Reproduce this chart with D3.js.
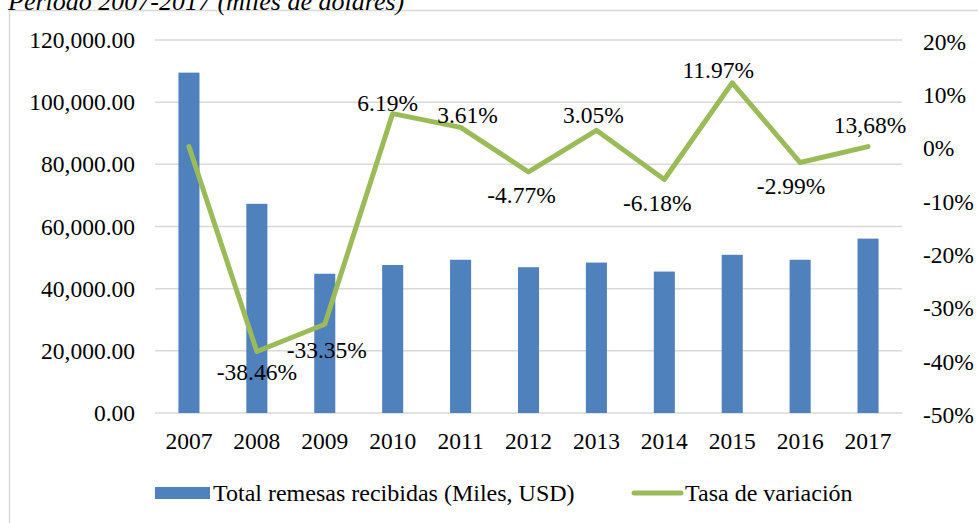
<!DOCTYPE html>
<html>
<head>
<meta charset="utf-8">
<script src="https://cdn.jsdelivr.net/npm/d3@7"></script>
<style>
  body { margin: 0; background: #fff; }
  svg text { font-family: "Liberation Serif", "Times New Roman", serif !important; fill: #000; }
</style>
</head>
<body>
<div id="chart"></div>
<script>
// data
var years = ["2007", "2008", "2009", "2010", "2011", "2012", "2013", "2014", "2015", "2016", "2017"];
var remesas = [109500, 67300, 44800, 47600, 49300, 46900, 48400, 45500, 50900, 49300, 56100];
var tasa = [0, -38.46, -33.35, 6.19, 3.61, -4.77, 3.05, -6.18, 11.97, -2.99, 0];
var tasaLabels = ["", "-38.46%", "-33.35%", "6.19%", "3.61%", "-4.77%", "3.05%", "-6.18%", "11.97%", "-2.99%", "13,68%"];
var leftTicks = [0, 20000, 40000, 60000, 80000, 100000, 120000];
var rightTicks = [20, 10, 0, -10, -20, -30, -40, -50];

// hand-dragged label nudges [dx, dy], like in the original spreadsheet
var labelNudge = [[0, 0], [0, -3], [2, 3], [-5, 3], [7, 2], [-7, 0], [-3, -1], [-7, 0], [-14, 1], [-9, 0], [2, -8]];

var width = 978, height = 523;
var plotL = 155, plotR = 902, plotT = 40, plotB = 413;
var fs = "23.5px";
var serif = "'Liberation Serif', 'Times New Roman', serif";

var svg = d3.select("#chart")
    .append("svg")
    .attr("width", width)
    .attr("height", height)
    .style("font-family", serif);

// outer frame (runs off the page on right / bottom)
svg.append("rect")
    .attr("x", 9.5).attr("y", 10.5)
    .attr("width", 1000).attr("height", 600)
    .attr("fill", "none")
    .attr("stroke", "#d9d9d9")
    .attr("stroke-width", 1.5);

// cut-off title
svg.append("text")
    .attr("x", 8).attr("y", 10)
    .style("font-style", "italic")
    .style("font-size", "26px")
    .text("Período 2007-2017 (miles de dólares)");

var x = d3.scaleBand()
    .domain(years)
    .range([plotL, plotR])
    .paddingInner(0.69)
    .paddingOuter(0.345);

var y = d3.scaleLinear().domain([0, 120000]).range([plotB, plotT]);
var y2 = d3.scaleLinear().domain([-50, 20]).range([plotB, plotT]);

// gridlines
svg.append("g")
    .selectAll("line")
    .data(leftTicks)
    .enter()
    .append("line")
    .attr("x1", plotL).attr("x2", plotR)
    .attr("y1", function (d) { return y(d); })
    .attr("y2", function (d) { return y(d); })
    .attr("stroke", "#d9d9d9")
    .attr("stroke-width", 1.5);

// left axis
var fmt = d3.format(",.2f");
var yAxis = svg.append("g")
    .attr("transform", "translate(" + plotL + ",0)")
    .call(d3.axisLeft(y).tickValues(leftTicks).tickFormat(fmt).tickSize(0).tickPadding(20));
yAxis.select(".domain").remove();

// right axis
var y2Axis = svg.append("g")
    .attr("transform", "translate(" + plotR + ",0)")
    .call(d3.axisRight(y2).tickValues(rightTicks).tickFormat(function (d) { return d + "%"; }).tickSize(0).tickPadding(21));
y2Axis.select(".domain").remove();
y2Axis.selectAll("text").attr("dy", "0.4em");

// bottom axis
var xAxis = svg.append("g")
    .attr("transform", "translate(0," + plotB + ")")
    .call(d3.axisBottom(x).tickSize(0).tickPadding(19));
xAxis.select(".domain").remove();

// d3 axes set their own font; use the serif one
svg.selectAll("g").attr("font-family", serif).attr("font-size", null);

// bars
svg.append("g")
    .selectAll("rect")
    .data(remesas)
    .enter()
    .append("rect")
    .attr("x", function (d, i) { return x(years[i]); })
    .attr("y", function (d) { return y(d); })
    .attr("width", x.bandwidth())
    .attr("height", function (d) { return plotB - y(d); })
    .attr("fill", "#4f81bd");

// line
var cx = function (i) { return x(years[i]) + x.bandwidth() / 2; };
var line = d3.line()
    .x(function (d, i) { return cx(i); })
    .y(function (d) { return y2(d); });

svg.append("path")
    .datum(tasa)
    .attr("d", line)
    .attr("fill", "none")
    .attr("stroke", "#9bbb59")
    .attr("stroke-width", 5)
    .attr("stroke-linejoin", "round")
    .attr("stroke-linecap", "round");

// data labels: negatives below the point, positives above
svg.append("g")
    .attr("font-family", serif)
    .selectAll("text")
    .data(tasaLabels)
    .enter()
    .append("text")
    .attr("x", function (d, i) { return cx(i) + labelNudge[i][0]; })
    .attr("y", function (d, i) {
        var below = d.charAt(0) === "-";
        return y2(tasa[i]) + (below ? 31 : -6) + labelNudge[i][1];
    })
    .attr("text-anchor", "middle")
    .text(function (d) { return d; });

// all chart texts share one size
svg.selectAll("text").style("font-size", function () {
    return this.style.fontSize || fs;
});

// legend
var lg = svg.append("g");
lg.append("rect")
    .attr("x", 155).attr("y", 487)
    .attr("width", 55).attr("height", 12)
    .attr("fill", "#4f81bd");
lg.append("text")
    .attr("x", 213).attr("y", 501)
    .style("font-size", "24px")
    .text("Total remesas recibidas (Miles, USD)");
lg.append("line")
    .attr("x1", 634).attr("x2", 681)
    .attr("y1", 493).attr("y2", 493)
    .attr("stroke", "#9bbb59")
    .attr("stroke-width", 5)
    .attr("stroke-linecap", "round");
lg.append("text")
    .attr("x", 685).attr("y", 501)
    .style("font-size", "24px")
    .text("Tasa de variación");
</script>
</body>
</html>
